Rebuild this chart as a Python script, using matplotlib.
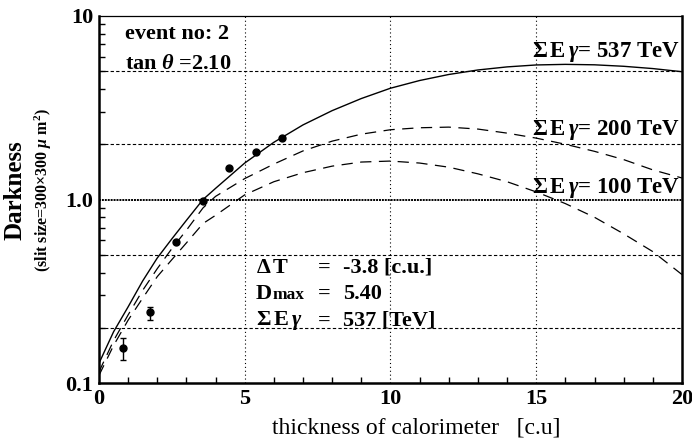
import numpy as np
import matplotlib
matplotlib.use("Agg")
import matplotlib.pyplot as plt

plt.rcParams["font.family"] = ["Liberation Serif", "DejaVu Serif"]
plt.rcParams["mathtext.fontset"] = "custom"
plt.rcParams["mathtext.rm"] = "Liberation Serif:bold"
plt.rcParams["mathtext.it"] = "Liberation Serif:italic:bold"
plt.rcParams["mathtext.bf"] = "Liberation Serif:bold"

# measured darkness vs depth
depth = [0.83, 1.76, 2.66, 3.58, 4.45, 5.40, 6.28]
darkness = [0.156, 0.243, 0.59, 0.98, 1.49, 1.82, 2.15]
err_lo = [0.023, 0.023, 0, 0, 0, 0, 0]
err_hi = [0.021, 0.017, 0, 0, 0, 0, 0]

# transition curves for three total energies
t_curve = [0, 0.5, 1.0, 1.5, 2.0, 2.5, 3.0, 3.57, 4.0, 5.0, 6.0, 7.0, 8.0, 9.0,
           10, 11, 12, 13, 14, 15, 16, 17, 18, 19, 20]
d_537 = [0.128, 0.19, 0.26, 0.36, 0.48, 0.61, 0.77, 1.0, 1.15, 1.58, 2.05, 2.55,
         3.05, 3.55, 4.04, 4.45, 4.8, 5.08, 5.28, 5.41, 5.45, 5.42, 5.32, 5.17, 4.97]
d_200 = [0.115, 0.17, 0.235, 0.32, 0.42, 0.54, 0.68, 0.9, 1.04, 1.3, 1.56, 1.84,
         2.08, 2.27, 2.4, 2.46, 2.48, 2.42, 2.3, 2.16, 2.0, 1.83, 1.65, 1.45, 1.31]
d_100 = [0.11, 0.16, 0.22, 0.29, 0.38, 0.47, 0.58, 0.74, 0.82, 1.06, 1.25, 1.4,
         1.52, 1.6, 1.62, 1.58, 1.5, 1.38, 1.25, 1.1, 0.95, 0.8, 0.65, 0.52, 0.39]

energies = [537, 200, 100]
label_y = [5.98, 2.25, 1.08]

fig = plt.figure(figsize=(6.92, 4.43), dpi=100)
ax = fig.add_axes([0.143, 0.1354, 0.8425, 0.8285])

# reference lines
for yv in [0.2, 0.5, 2, 5]:
    ax.axhline(yv, color="black", lw=0.8, ls=(0, (3, 2)), zorder=1)
ax.axhline(1.0, color="black", lw=1.4, ls=(0, (1, 0.5)), zorder=1)
for xv in [5, 10, 15]:
    ax.axvline(xv, color="black", lw=0.8, ls=(0, (1, 2.5)), zorder=1)

ax.plot(t_curve, d_537, color="black", lw=1.0, zorder=2)
ax.plot(t_curve, d_200, color="black", lw=0.9, ls=(0, (9, 6)), zorder=2)
ax.plot(t_curve, d_100, color="black", lw=0.9, ls=(0, (9, 6)), zorder=2)

ax.errorbar(depth, darkness, yerr=[err_lo, err_hi], fmt="o", color="black",
            ms=5, elinewidth=1, capsize=2.5, zorder=3)

ax.set_yscale("log")
ax.set_xlim(0, 20)
ax.set_ylim(0.1, 10)
ax.set_xticks([0, 5, 10, 15, 20])
ax.set_xticklabels(["0", "5", "10", "15", "20"], fontweight="bold", fontsize=16)
ax.set_yticks([0.1, 1.0, 10])
ax.set_yticklabels(["0.1", "1.0", "10"], fontweight="bold", fontsize=16)
ax.minorticks_on()
ax.set_xticks(np.arange(0, 21, 1), minor=True)
ax.tick_params(which="both", direction="in", top=False, right=False)
ax.tick_params(which="major", length=0, pad=4)
ax.tick_params(which="minor", length=4, width=1)

for s in ["left", "bottom", "right"]:
    ax.spines[s].set_linewidth(1.8)
ax.spines["top"].set_linewidth(0.9)

ax.set_xlabel("thickness of calorimeter   [c.u]", fontsize=17, va="center")
ax.xaxis.set_label_coords(0.544, -0.123)
fig.text(0.022, 0.571, "Darkness", rotation=90, fontsize=18, fontweight="bold",
         ha="center", va="center")
fig.text(0.062, 0.571, r"(slit size=300×300 $\mu$ m$^2$)", rotation=90,
         fontsize=11.5, fontweight="bold", ha="center", va="center")

ax.text(0.045, 0.95, "event no: 2", transform=ax.transAxes, fontsize=16,
        fontweight="bold", va="center")
ax.text(0.045, 0.868, r"tan $\theta$ =2.10", transform=ax.transAxes, fontsize=16,
        fontweight="bold", va="center")

for e, yv in zip(energies, label_y):
    ax.text(19.95, yv, r"$\Sigma\,\mathrm{E}\,\gamma$= %d TeV" % e, ha="right",
            va="baseline", fontsize=16.5, fontweight="bold")

rows = [(r"$\Delta\,\mathrm{T}$", "-3.8 [c.u.]", 0.30),
        (None, "5.40", 0.228),
        (r"$\Sigma\,\mathrm{E}\,\gamma$", "537 [TeV]", 0.157)]
for name, val, yy in rows:
    if name is None:
        ax.text(0.269, yy, "D", transform=ax.transAxes, fontsize=16,
                fontweight="bold", va="baseline")
        ax.text(0.298, yy, "max", transform=ax.transAxes, fontsize=12.5,
                fontweight="bold", va="baseline")
    else:
        ax.text(0.269, yy, name, transform=ax.transAxes, fontsize=16,
                fontweight="bold", va="baseline")
    ax.text(0.375, yy, "=", transform=ax.transAxes, fontsize=16,
            fontweight="bold", va="baseline")
    ax.text(0.418, yy, val, transform=ax.transAxes, fontsize=16,
            fontweight="bold", va="baseline")

fig.savefig("out.png", dpi=100)
